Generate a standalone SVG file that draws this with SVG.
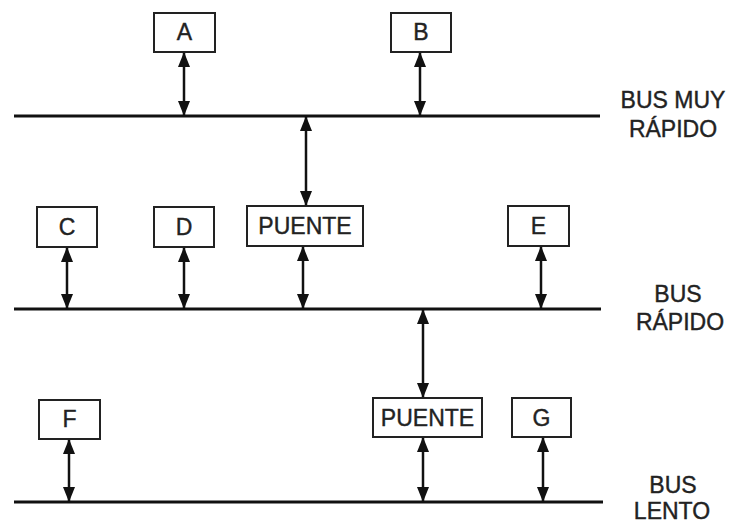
<svg xmlns="http://www.w3.org/2000/svg" width="729" height="523" viewBox="0 0 729 523">
<defs>
<marker id="ah" markerUnits="userSpaceOnUse" markerWidth="15" markerHeight="12" refX="14" refY="6" orient="auto-start-reverse" viewBox="0 0 15 12">
<path d="M0,0 L15,6 L0,12 z" fill="#111"/>
</marker>
<style>
.bus{stroke:#111;stroke-width:3;fill:none}
.box{fill:#fff;stroke:#222;stroke-width:2}
.lbl{font-family:"Liberation Sans",Arial,sans-serif;font-size:23px;fill:#222;stroke:#222;stroke-width:0.4;text-anchor:middle}
.arr{stroke:#111;stroke-width:2.5;fill:none;marker-start:url(#ah);marker-end:url(#ah)}
</style>
</defs>
<rect width="729" height="523" fill="#fff"/>
<g id="buses">
<line class="bus" x1="14" y1="116" x2="600" y2="116"/>
<line class="bus" x1="14" y1="309" x2="601" y2="309"/>
<line class="bus" x1="14" y1="502" x2="603" y2="502"/>
<text class="lbl" x="673" y="108">BUS MUY</text>
<text class="lbl" x="673" y="137">RÁPIDO</text>
<text class="lbl" x="678" y="302">BUS</text>
<text class="lbl" x="680" y="330">RÁPIDO</text>
<text class="lbl" x="673" y="493">BUS</text>
<text class="lbl" x="672" y="519">LENTO</text>
</g>
<g id="A"><rect class="box" x="154" y="13" width="61" height="39"/><text class="lbl" x="184.5" y="40">A</text></g>
<g id="B"><rect class="box" x="391" y="13" width="60" height="39"/><text class="lbl" x="421" y="40">B</text></g>
<g id="C"><rect class="box" x="37" y="207" width="60" height="40"/><text class="lbl" x="67" y="235">C</text></g>
<g id="D"><rect class="box" x="154" y="207" width="60" height="40"/><text class="lbl" x="184" y="235">D</text></g>
<g id="PUENTE1"><rect class="box" x="247" y="206" width="116" height="40"/><text class="lbl" x="305" y="234">PUENTE</text></g>
<g id="E"><rect class="box" x="508" y="206" width="61" height="40"/><text class="lbl" x="538.5" y="234">E</text></g>
<g id="F"><rect class="box" x="39" y="400" width="61" height="39"/><text class="lbl" x="69.5" y="427">F</text></g>
<g id="PUENTE2"><rect class="box" x="373" y="398" width="109" height="39"/><text class="lbl" x="427.5" y="426">PUENTE</text></g>
<g id="G"><rect class="box" x="512" y="398" width="59" height="39"/><text class="lbl" x="541.5" y="426">G</text></g>
<g id="connectors">
<line class="arr" x1="184" y1="53" x2="184" y2="115"/>
<line class="arr" x1="420" y1="53" x2="420" y2="115"/>
<line class="arr" x1="306" y1="117" x2="306" y2="205"/>
<line class="arr" x1="67" y1="248" x2="67" y2="308"/>
<line class="arr" x1="184" y1="248" x2="184" y2="308"/>
<line class="arr" x1="303" y1="247" x2="303" y2="308"/>
<line class="arr" x1="541" y1="247" x2="541" y2="308"/>
<line class="arr" x1="423" y1="310" x2="423" y2="397"/>
<line class="arr" x1="69" y1="440" x2="69" y2="501"/>
<line class="arr" x1="423" y1="438" x2="423" y2="501"/>
<line class="arr" x1="543" y1="438" x2="543" y2="501"/>
</g>
</svg>
